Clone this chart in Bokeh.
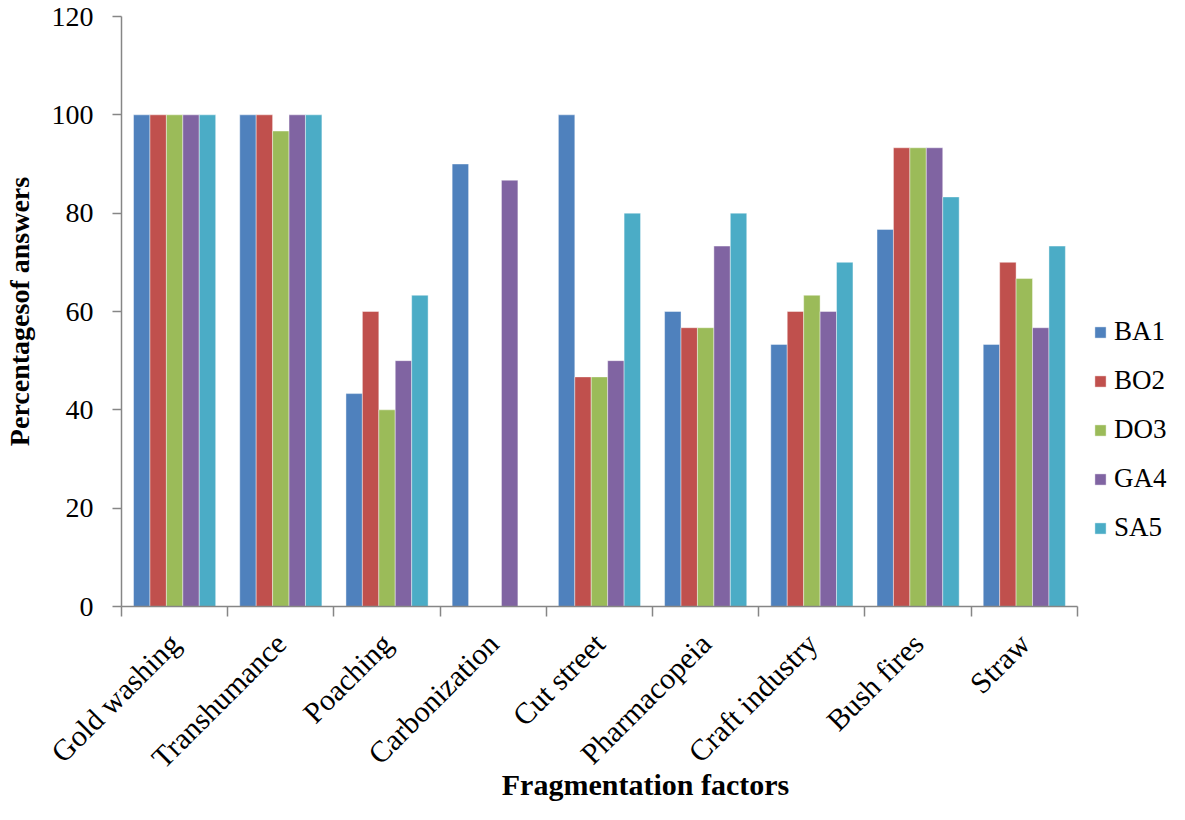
import math
from bokeh.plotting import figure
from bokeh.models import (ColumnDataSource, FixedTicker, LinearAxis, Range1d,
                          Legend, LegendItem)
from bokeh.transform import dodge
from bokeh.embed import file_html
from bokeh.resources import INLINE

categories = ["Gold washing", "Transhumance", "Poaching", "Carbonization",
              "Cut street", "Pharmacopeia", "Craft industry", "Bush fires", "Straw"]
series_names = ["BA1", "BO2", "DO3", "GA4", "SA5"]
BA1 = [100, 100, 43.3, 90, 100, 60, 53.3, 76.7, 53.3]
BO2 = [100, 100, 60, 0, 46.7, 56.7, 60, 93.3, 70]
DO3 = [100, 96.7, 40, 0, 46.7, 56.7, 63.3, 93.3, 66.7]
GA4 = [100, 100, 50, 86.7, 50, 73.3, 60, 93.3, 56.7]
SA5 = [100, 100, 63.3, 0, 80, 80, 70, 83.3, 73.3]
y_ticks = [0, 20, 40, 60, 80, 100, 120]

colors = ["#4F81BD", "#C0504D", "#9BBB59", "#8064A2", "#4BACC6"]
FONT = "Liberation Serif"
AXIS_COLOR = "#868686"

W, H = 1169, 804
LEFT, RIGHT, TOP, BOTTOM = 113, 0, 16, 198
AXIS_PX = 955  # pixel length of the category axis
n = len(categories)
frame_w = W - LEFT - RIGHT - 9
x_end = n * frame_w / AXIS_PX  # frame extends to the right to host the legend

pos = [i + 0.5 for i in range(n)]
src = ColumnDataSource(dict(pos=pos, BA1=BA1, BO2=BO2, DO3=DO3, GA4=GA4, SA5=SA5))

p = figure(width=W, height=H, output_backend="svg", toolbar_location=None,
           x_range=Range1d(0, x_end), y_range=Range1d(0, 120),
           x_axis_type=None, y_axis_type=None,
           min_border_left=LEFT, min_border_right=RIGHT, min_border_top=TOP,
           min_border_bottom=BOTTOM)
p.outline_line_color = None
p.xgrid.visible = False
p.ygrid.visible = False
p.background_fill_color = "white"
p.border_fill_color = "white"

bw = 0.1547
renderers = []
for j, name in enumerate(series_names):
    r = p.vbar(x=dodge("pos", (j - 2) * bw, range=p.x_range), top=name, width=bw,
               bottom=0, source=src, fill_color=colors[j],
               line_color="white", line_width=0.6, line_alpha=0.7)
    renderers.append(r)

# x axis: labels at category centres, ticks at boundaries (minor ticks)
xaxis = LinearAxis(ticker=FixedTicker(ticks=pos, minor_ticks=list(range(n + 1))),
                   bounds=(0, n))
xaxis.major_label_overrides = {pp: c for pp, c in zip(pos, categories)}
xaxis.major_label_orientation = math.pi / 4
xaxis.major_tick_line_color = None
xaxis.major_tick_out = 10
xaxis.major_tick_in = 0
xaxis.minor_tick_line_color = AXIS_COLOR
xaxis.minor_tick_line_width = 1.5
xaxis.minor_tick_out = 10
xaxis.minor_tick_in = 0
xaxis.axis_line_color = AXIS_COLOR
xaxis.axis_line_width = 1.5
xaxis.major_label_text_font = FONT
xaxis.major_label_text_font_size = "30px"
xaxis.major_label_text_color = "black"
xaxis.major_label_standoff = 22
xaxis.axis_label = "Fragmentation factors"
xaxis.axis_label_text_font = FONT
xaxis.axis_label_text_font_style = "bold"
xaxis.axis_label_text_font_size = "30px"
xaxis.axis_label_text_color = "black"
xaxis.axis_label_standoff = -21
p.add_layout(xaxis, "below")

yaxis = LinearAxis(ticker=FixedTicker(ticks=y_ticks, minor_ticks=[]))
yaxis.major_tick_out = 9
yaxis.major_tick_in = 0
yaxis.major_tick_line_color = AXIS_COLOR
yaxis.major_tick_line_width = 1.5
yaxis.axis_line_color = AXIS_COLOR
yaxis.axis_line_width = 1.5
yaxis.major_label_text_font = FONT
yaxis.major_label_text_font_size = "28px"
yaxis.major_label_text_color = "black"
yaxis.major_label_standoff = 19
yaxis.axis_label = "Percentagesof answers"
yaxis.axis_label_text_font = FONT
yaxis.axis_label_text_font_style = "bold"
yaxis.axis_label_text_font_size = "28px"
yaxis.axis_label_text_color = "black"
yaxis.axis_label_standoff = 14
p.add_layout(yaxis, "left")

legend = Legend(items=[LegendItem(label=s, renderers=[r]) for s, r in zip(series_names, renderers)],
                location=(972, 63), orientation="vertical",
                glyph_width=14, glyph_height=14, label_height=31,
                label_standoff=7, spacing=18, padding=0, margin=0,
                border_line_color=None, background_fill_alpha=0,
                label_text_font=FONT, label_text_font_size="27px",
                label_text_color="black")
p.add_layout(legend, "center")

open("out.html", "w").write(file_html(p, INLINE))
